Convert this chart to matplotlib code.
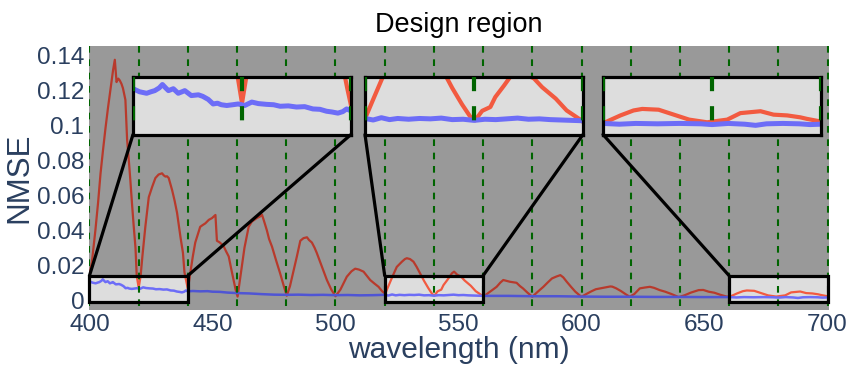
import numpy as np
import matplotlib
matplotlib.use("Agg")
import matplotlib.pyplot as plt
from matplotlib.patches import Rectangle, ConnectionPatch

plt.rcParams['font.family'] = ['Liberation Sans', 'DejaVu Sans']

# ---- data ----
wl_red = [400, 401, 402.4, 403.5, 404.5, 405.5, 406.5, 407.5, 408.5, 409.6, 410.3, 411, 411.7, 412.3, 413,
          413.6, 414.6, 415.3, 416, 416.6, 417.3, 418, 418.7, 419.2, 420, 420.8, 421.5, 422.7, 424.1, 425.5,
          426.8, 428.1, 429.5, 430.2, 430.9, 431.5, 432.2, 433.6, 434.6, 435.6, 437, 438, 438.6, 439.3, 440,
          441, 442, 443, 445, 446, 447.1, 448.5, 449.8, 451.2, 451.8, 453, 454.5, 455.5, 456.6, 457.6, 458.6,
          459.4, 460.2, 461, 462, 463, 464, 464.7, 466, 467, 468, 469.4, 470.1, 470.8, 472.1, 473, 474.2,
          475.8, 477.5, 479, 480.2, 481.5, 483, 484.3, 485.7, 487, 488.4, 489.2, 490.4, 491.5, 492.4, 494.5,
          496.5, 498.3, 500, 502, 504.6, 506.5, 508, 509.5, 511.4, 514.1, 515.8, 517.5, 519, 520.2,
          521.5, 523, 524.9, 527, 528.2, 529, 530.3, 531.7, 533, 534.4, 536, 537.8, 539.3, 540.2,
          541.5, 543, 543.9, 545.5, 546.7, 547.3, 548.2, 549.5, 551, 552.5, 555, 557, 559.5, 560.1,
          562, 563.5, 565.5, 567, 568.2, 569.5, 570.9, 572.3, 573.6, 575, 576.2, 578, 580,
          582, 584.5, 586.2, 588, 589.8, 591.4, 592.6, 594, 595.8, 597.5, 599, 600,
          602, 604, 605.8, 607.6, 609.5, 611.7, 612.5, 614, 616, 618, 619.6,
          621.5, 623.7, 625.8, 627.8, 629.5, 631.8, 634, 636.5, 639.5,
          642, 644.5, 647.6, 649.5, 651.7, 654, 656.5, 659,
          660.4, 663.2, 665.6, 667.2, 670.2, 673, 675.8, 679.1, 682.8, 685.2, 688.9, 691.3, 693.8,
          696.2, 697.4, 699.6]
nmse_red = [0.014, 0.022, 0.040, 0.056, 0.0727, 0.086, 0.0985, 0.110, 0.1205, 0.132, 0.1378, 0.125, 0.127,
            0.126, 0.124, 0.1215, 0.1148, 0.0918, 0.080, 0.0689, 0.055, 0.042, 0.030, 0.014, 0.007, 0.014,
            0.025, 0.042, 0.059, 0.065, 0.070, 0.072, 0.0727, 0.0715, 0.0708, 0.071, 0.070, 0.063, 0.057,
            0.050, 0.036, 0.027, 0.016, 0.011, 0.0064,
            0.0155, 0.025, 0.033, 0.042, 0.043, 0.044, 0.046, 0.047, 0.0488, 0.034, 0.033, 0.031, 0.028,
            0.025, 0.018, 0.0115, 0.006, 0.002, 0.010, 0.020, 0.030, 0.037, 0.042, 0.045, 0.046, 0.047,
            0.048, 0.049, 0.046, 0.040, 0.035, 0.0306, 0.023, 0.0153, 0.008, 0.0025, 0.008, 0.017, 0.025,
            0.034, 0.0355, 0.036, 0.0345, 0.033, 0.030, 0.027, 0.019, 0.0115, 0.006, 0.0022, 0.006, 0.0134,
            0.0165, 0.018, 0.0175, 0.0163, 0.0115, 0.0095, 0.0076, 0.005, 0.0036,
            0.008, 0.013, 0.019, 0.022, 0.0235, 0.024, 0.0235, 0.022, 0.019, 0.0153, 0.011, 0.0067, 0.0035,
            0.0025, 0.005, 0.006, 0.0086, 0.0116, 0.014, 0.0153, 0.0163, 0.0145, 0.0135, 0.0112, 0.0082,
            0.0051, 0.0027, 0.002,
            0.004, 0.0055, 0.0076, 0.010, 0.0115, 0.011, 0.0105, 0.0102, 0.0099, 0.008, 0.0067, 0.0043, 0.0019,
            0.0045, 0.0076, 0.010, 0.0124, 0.0135, 0.0143, 0.013, 0.0105, 0.0075, 0.0048, 0.003, 0.0019,
            0.0035, 0.005, 0.0062, 0.0067, 0.0072, 0.0078, 0.0077, 0.0068, 0.0052, 0.0033, 0.0019,
            0.0035, 0.0067, 0.0072, 0.0076, 0.007, 0.0057, 0.0048, 0.0035, 0.0017,
            0.0028, 0.0043, 0.0057, 0.0058, 0.0048, 0.0042, 0.003, 0.002,
            0.002, 0.0038, 0.0051, 0.0055, 0.0053, 0.004, 0.0027, 0.002, 0.0027, 0.0044, 0.0049, 0.004,
            0.0038, 0.0033, 0.0029, 0.0023]

wl_blue = [400, 401.2, 402.5, 403.3, 404, 404.8, 405.4, 406, 406.5, 407.4, 408.3, 409, 409.5, 410.7, 412,
           412.8, 413.8, 414.7, 415.5, 416.2, 417.2, 418.3, 419.3, 420.5, 421.8, 423, 424.5, 425.8, 427,
           428.5, 430, 431.5, 433, 434.3, 435.5, 436.5, 437.6, 438.5, 439.2, 440,
           442, 445, 448, 450, 453, 456, 460, 465, 470, 475, 480, 485, 490, 495, 500, 505, 510, 515,
           520, 521.5, 523, 524.5, 526, 528, 530, 532, 534, 536, 538, 540, 542, 544, 546, 548, 550, 552,
           554, 556, 558, 560, 570, 580, 590, 600, 610, 620, 630, 640, 650,
           660, 663, 666, 670, 674, 678, 680, 683, 686, 688, 690, 693, 696, 698, 700]
nmse_blue = [0.0108, 0.0100, 0.0096, 0.0100, 0.0103, 0.0110, 0.0119, 0.0110, 0.0103, 0.0108, 0.0096, 0.0100,
             0.0103, 0.0090, 0.0092, 0.0088, 0.0080, 0.0068, 0.0070, 0.0066, 0.0064, 0.0066, 0.0068, 0.0064,
             0.0073, 0.0069, 0.0067, 0.0066, 0.0062, 0.0063, 0.0060, 0.0061, 0.0055, 0.0054, 0.0049, 0.0047,
             0.0044, 0.0048, 0.0055, 0.0050,
             0.0052, 0.0050, 0.0051, 0.0048, 0.0047, 0.0043, 0.0040, 0.0038, 0.0034, 0.0031, 0.0030, 0.0031,
             0.0029, 0.0030, 0.0028, 0.0029, 0.0027, 0.0028,
             0.0030, 0.0026, 0.0032, 0.0027, 0.0030, 0.0028, 0.0030, 0.0029, 0.0031, 0.0027, 0.0028, 0.0025,
             0.0028, 0.0027, 0.0029, 0.0031, 0.0028, 0.0029, 0.0027, 0.0026, 0.0025, 0.0024,
             0.0024, 0.0022, 0.0022, 0.0020, 0.0019, 0.0019, 0.0018, 0.0018, 0.0017,
             0.0017, 0.0015, 0.0017, 0.0016, 0.0017, 0.0016, 0.0014, 0.0017, 0.0015, 0.0012, 0.0016, 0.0017,
             0.0016, 0.0014, 0.0015]

design_wl = [400, 420, 440, 460, 480, 500, 520, 540, 560, 580, 600, 620, 640, 660, 680, 700]
zoom_ranges = [(400, 440), (520, 560), (660, 700)]
zoom_ylim = (-0.0012, 0.014)

xticks = [400, 450, 500, 550, 600, 650, 700]
yticks = [0, 0.02, 0.04, 0.06, 0.08, 0.1, 0.12, 0.14]
ytick_labels = ['0', '0.02', '0.04', '0.06', '0.08', '0.1', '0.12', '0.14']

txt_col = '#2a3f5f'
red_main, blue_main = '#b83a2c', '#4f55d4'
red_zoom, blue_zoom = '#f25a40', '#6d6df7'
green = '#006400'

W, H = 852, 374
fig = plt.figure(figsize=(W / 100, H / 100), dpi=100)

def px_axes(x0, x1, y0, y1):
    # pixel box (top-left origin) -> figure fraction
    return [x0 / W, (H - y1) / H, (x1 - x0) / W, (y1 - y0) / H]

ax = fig.add_axes(px_axes(88.5, 828.5, 46, 310))
ax.set_facecolor('#999999')
ax.plot(wl_red, nmse_red, color=red_main, lw=1.6, zorder=2)
ax.plot(wl_blue, nmse_blue, color=blue_main, lw=1.8, zorder=2)
xt = ax.get_xaxis_transform()
for w in design_wl:
    ax.plot([w, w], [1, 0], transform=xt, color=green, lw=1.5, dashes=(3.2, 3.2), zorder=5)

for (a, b) in zoom_ranges:
    rect = Rectangle((a, zoom_ylim[0]), b - a, zoom_ylim[1] - zoom_ylim[0],
                     facecolor='#dddddd', edgecolor='none', zorder=3)
    ax.add_patch(rect)
    l1, = ax.plot(wl_red, nmse_red, color=red_zoom, lw=1.6, zorder=4)
    l2, = ax.plot(wl_blue, nmse_blue, color=blue_zoom, lw=1.8, zorder=4)
    l1.set_clip_path(rect)
    l2.set_clip_path(rect)
    ax.add_patch(Rectangle((a, zoom_ylim[0]), b - a, zoom_ylim[1] - zoom_ylim[0],
                           facecolor='none', edgecolor='black', lw=2.3, zorder=6, clip_on=False))

ax.set_xlim(399.6, 700.4)
ax.set_ylim(-0.0057, 0.1457)
ax.set_xticks(xticks)
ax.set_yticks(yticks)
ax.set_yticklabels(ytick_labels)
ax.tick_params(length=0, labelsize=17.5, labelcolor=txt_col, pad=3)
for s in ax.spines.values():
    s.set_visible(False)
ax.set_xlabel('wavelength (nm)', fontsize=21.5, color=txt_col, labelpad=0)
ax.set_ylabel('NMSE', fontsize=22.5, color=txt_col, labelpad=2)
ax.set_title('Design region', fontsize=19.5, color='black', pad=10)

inset_px = [(133, 351), (365, 583), (603, 821)]
for (a, b), (x0, x1) in zip(zoom_ranges, inset_px):
    ins = fig.add_axes(px_axes(x0, x1, 76.5, 134.5))
    ins.set_facecolor('#dddddd')
    ins.plot(wl_red, nmse_red, color=red_zoom, lw=3, zorder=2)
    ins.plot(wl_blue, nmse_blue, color=blue_zoom, lw=3.6, zorder=2)
    it = ins.get_xaxis_transform()
    for w in design_wl:
        ins.plot([w, w], [1, 0], transform=it, color=green, lw=3, dashes=(3.4, 3.6), zorder=3)
    ins.set_xlim(a, b)
    ins.set_ylim(*zoom_ylim)
    ins.set_xticks([])
    ins.set_yticks([])
    for s in ins.spines.values():
        s.set_linewidth(2.3)
        s.set_color('black')
    ins.set_zorder(3)
    # connector lines from inset corners to the zoom box
    corners = [(0, a), (1, b)] if b < 700 else [(0, a)]
    for fx, dx in corners:
        con = ConnectionPatch(xyA=(fx, 0), coordsA=ins.transAxes,
                              xyB=(dx, zoom_ylim[1]), coordsB=ax.transData,
                              color='black', lw=2.3, zorder=7)
        fig.add_artist(con)

fig.savefig('out.png', dpi=100)
